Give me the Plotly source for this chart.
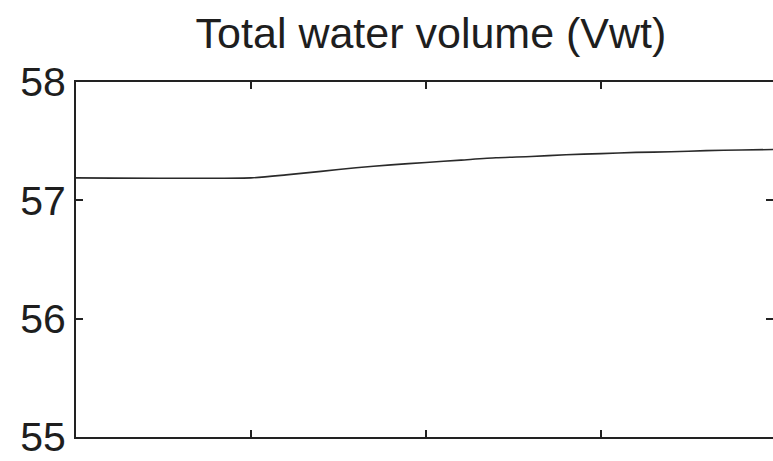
import plotly.graph_objects as go

title_text = "Total water volume (Vwt)"
x_vals = [0.0, 1.0, 1.2, 1.4, 1.6, 1.8, 2.0, 2.2, 2.4, 2.6, 2.8, 3.0, 3.2, 3.4, 3.6, 3.8, 4.0]
vwt = [57.19, 57.19, 57.215, 57.245, 57.275, 57.30, 57.32, 57.34, 57.36, 57.37,
       57.385, 57.395, 57.405, 57.41, 57.42, 57.425, 57.43]
y_ticks = [55, 56, 57, 58]
x_ticks = [0, 1, 2, 3, 4]

fig = go.Figure()
fig.add_trace(go.Scatter(x=x_vals, y=vwt, mode="lines",
                         line=dict(color="#2a2a2a", width=1.6, shape="spline", smoothing=0.6),
                         hoverinfo="skip", showlegend=False))
# invisible copy to activate the right-hand tick axis
fig.add_trace(go.Scatter(x=x_vals, y=vwt, mode="lines", yaxis="y2",
                         line=dict(color="rgba(0,0,0,0)", width=0),
                         hoverinfo="skip", showlegend=False))

font_family = "Liberation Sans, Arial, sans-serif"
fig.update_layout(
    width=773, height=461,
    margin=dict(l=76, r=0, t=82, b=24),
    paper_bgcolor="white", plot_bgcolor="white",
    title=dict(text=title_text, x=431 / 773, xanchor="center", xref="container",
               y=1 - 33 / 461, yanchor="middle", yref="container",
               font=dict(family=font_family, size=43, color="#1e1e1e")),
    xaxis=dict(range=[0, 697 / 175], tickvals=x_ticks, showticklabels=False,
               ticks="inside", ticklen=7, tickwidth=2, tickcolor="#222",
               showline=True, linecolor="#222", linewidth=2, mirror="ticks",
               showgrid=False, zeroline=False),
    yaxis=dict(range=[55, 58], tickvals=y_ticks, ticks="inside", ticklen=7,
               tickwidth=2, tickcolor="#222", showline=True, linecolor="#222",
               linewidth=2, showgrid=False, zeroline=False,
               tickfont=dict(family=font_family, size=41, color="#1e1e1e")),
    yaxis2=dict(range=[55, 58], tickvals=y_ticks, overlaying="y", side="right",
                ticks="inside", ticklen=7, tickwidth=2, tickcolor="#222",
                showticklabels=False, showline=False, showgrid=False, zeroline=False),
)

fig.write_html("out.html")
